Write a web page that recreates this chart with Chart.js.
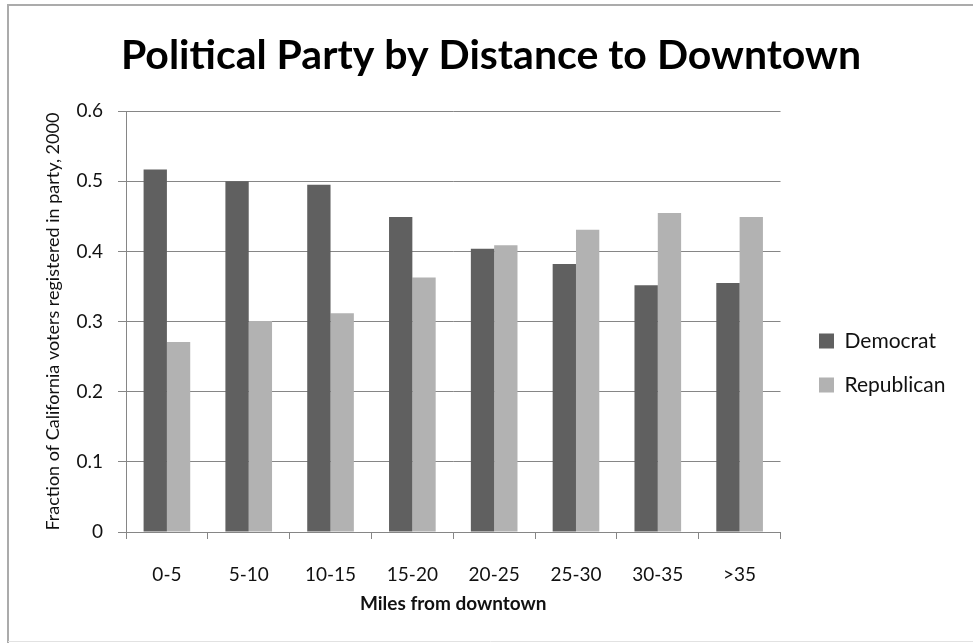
<!DOCTYPE html>
<html>
<head>
<meta charset="utf-8">
<script src="https://cdn.jsdelivr.net/npm/chart.js@4/dist/chart.umd.min.js"></script>
<style>
  html, body { margin: 0; padding: 0; background: #ffffff; }
  #wrap { position: relative; width: 973px; height: 643px; }
  canvas { display: block; }
</style>
</head>
<body>
<div id="wrap"><canvas id="chart" width="973" height="643"></canvas></div>
<script>
// Distance bands (miles from downtown)
const categories = ['0-5', '5-10', '10-15', '15-20', '20-25', '25-30', '30-35', '>35'];

// Fraction of registered voters in each party, 2000
const democrat   = [0.517, 0.500, 0.495, 0.449, 0.404, 0.382, 0.352, 0.355];
const republican = [0.271, 0.301, 0.312, 0.363, 0.409, 0.431, 0.455, 0.449];

// Value-axis tick labels
const yTickLabels = ['0', '0.1', '0.2', '0.3', '0.4', '0.5', '0.6'];

const FONT = 'Lato, "Open Sans", "DejaVu Sans", sans-serif';
const GRID = '#868686';
const TEXT = '#111111';

// Outer frame of the chart object
const frame = {
  id: 'frame',
  beforeDraw(chart) {
    const ctx = chart.ctx;
    ctx.save();
    ctx.strokeStyle = '#ababab';
    ctx.lineWidth = 2;
    ctx.beginPath();
    ctx.moveTo(8, 643);
    ctx.lineTo(8, 5);
    ctx.lineTo(973, 5);
    ctx.stroke();
    ctx.strokeStyle = '#e2e2e2';
    ctx.lineWidth = 1;
    ctx.beginPath();
    ctx.moveTo(8, 641.5);
    ctx.lineTo(973, 641.5);
    ctx.stroke();
    ctx.restore();
  }
};

// Place the legend block beside the plot, a little below centre
const legendPlacement = {
  id: 'legendPlacement',
  afterLayout(chart) {
    const lg = chart.legend;
    if (!lg) return;
    const dx = 819 - (lg.left + lg.options.labels.padding);
    const dy = 49;
    lg.left += dx; lg.right += dx;
    lg.top += dy; lg.bottom += dy;
  }
};

new Chart(document.getElementById('chart'), {
  type: 'bar',
  data: {
    labels: categories,
    datasets: [
      { label: 'Democrat', data: democrat, backgroundColor: '#606060', borderWidth: 0 },
      { label: 'Republican', data: republican, backgroundColor: '#b2b2b2', borderWidth: 0 }
    ]
  },
  options: {
    responsive: false,
    animation: false,
    devicePixelRatio: 1,
    layout: { padding: { left: 42, right: 33, top: 5, bottom: 20 } },
    datasets: { bar: { categoryPercentage: 0.57, barPercentage: 1.0 } },
    plugins: {
      title: {
        display: true,
        text: 'Political Party by Distance to Downtown',
        color: '#000000',
        font: { family: FONT, size: 41, weight: 'bold' },
        padding: { top: 26, bottom: 31 }
      },
      legend: {
        position: 'right',
        labels: {
          color: TEXT,
          font: { family: FONT, size: 21 },
          boxWidth: 15,
          boxHeight: 15,
          padding: 23
        }
      },
      tooltip: { enabled: false }
    },
    scales: {
      x: {
        afterFit(scale) { scale.height = 91; },
        grid: {
          display: true,
          drawOnChartArea: false,
          drawTicks: true,
          tickLength: 7,
          color: GRID,
          offset: true
        },
        border: { color: GRID, width: 1 },
        ticks: {
          color: TEXT,
          font: { family: FONT, size: 19 },
          padding: 24,
          maxRotation: 0
        },
        title: {
          display: true,
          text: 'Miles from downtown',
          color: TEXT,
          font: { family: FONT, size: 19, weight: 'bold' },
          padding: { top: 0, bottom: 8 }
        }
      },
      y: {
        min: 0,
        max: 0.6,
        afterFit(scale) { scale.width = 84; },
        grid: {
          color: GRID,
          drawTicks: true,
          tickLength: 8
        },
        border: { color: GRID, width: 1 },
        ticks: {
          stepSize: 0.1,
          color: TEXT,
          font: { family: FONT, size: 19 },
          padding: 15,
          callback: (value, index) => yTickLabels[index]
        },
        title: {
          display: true,
          text: 'Fraction of California voters registered in party, 2000',
          color: TEXT,
          font: { family: FONT, size: 18 },
          padding: { top: 0, bottom: 0 }
        }
      }
    }
  },
  plugins: [frame, legendPlacement]
});
</script>
</body>
</html>
